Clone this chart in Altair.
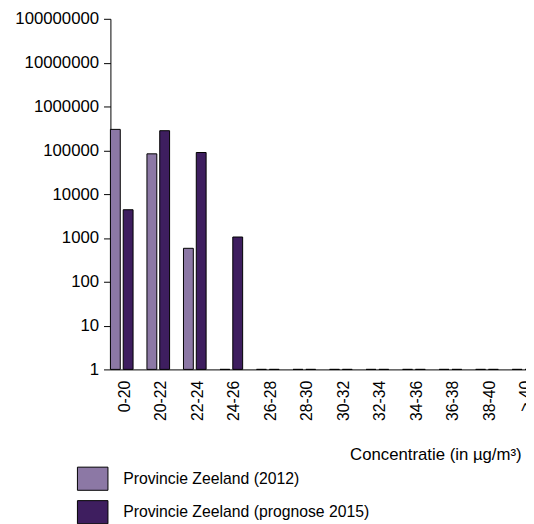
import altair as alt
import pandas as pd

categories = ["0-20", "20-22", "22-24", "24-26", "26-28", "28-30",
              "30-32", "32-34", "34-36", "36-38", "38-40", "> 40"]
series_names = ["Provincie Zeeland (2012)", "Provincie Zeeland (prognose 2015)"]
values_2012 = [300000, 83000, 580, 1, 1, 1, 1, 1, 1, 1, 1, 1]
values_2015 = [4400, 280000, 89000, 1050, 1, 1, 1, 1, 1, 1, 1, 1]
y_ticks = [1, 10, 100, 1000, 10000, 100000, 1000000, 10000000, 100000000]
colors = ["#8C78A5", "#3E1E5F"]

rows = []
for c, v in zip(categories, values_2012):
    rows.append({"cat": c, "series": series_names[0], "value": v})
for c, v in zip(categories, values_2015):
    rows.append({"cat": c, "series": series_names[1], "value": v})
df = pd.DataFrame(rows)

FONT = "Liberation Sans"

chart = alt.Chart(df).mark_bar(stroke="black", strokeWidth=1).encode(
    x=alt.X("cat:N", sort=categories,
            scale=alt.Scale(range=[0, 431], paddingInner=0.38, paddingOuter=0),
            axis=alt.Axis(title="Concentratie (in µg/m³)", labelAngle=-90, ticks=False,
                          domainColor="black", labelColor="black", labelFont=FONT,
                          labelFontSize=16, labelPadding=11, labelOffset=3,
                          titleFont=FONT,
                          titleFontSize=17, titleFontWeight="normal", titleColor="black",
                          titleX=417, titleY=86, titleAlign="right",
                          titleBaseline="middle", titleAnchor="start")),
    xOffset=alt.XOffset("series:N", sort=series_names,
                        scale=alt.Scale(paddingInner=0.23, paddingOuter=0)),
    y=alt.Y("value:Q",
            scale=alt.Scale(type="log", domain=[1, 100000000]),
            axis=alt.Axis(values=y_ticks, format="d", title=None, grid=False,
                          tickColor="black", domainColor="black", tickSize=7,
                          labelColor="black", labelFont=FONT, labelFontSize=17,
                          labelPadding=5)),
    y2=alt.datum(1),
    color=alt.Color("series:N", sort=series_names,
                    scale=alt.Scale(domain=series_names, range=colors),
                    legend=alt.Legend(title=None, orient="none", legendX=-34, legendY=451,
                                      direction="vertical",
                                      symbolType="M-1,-0.758L1,-0.758L1,0.758L-1,0.758Z",
                                      symbolSize=961, symbolStrokeColor="black",
                                      symbolStrokeWidth=1, symbolOpacity=1,
                                      labelFont=FONT, labelFontSize=16, labelColor="black",
                                      labelOffset=15, rowPadding=4, labelLimit=400)),
).properties(
    width=422, height=356,
    autosize=alt.AutoSizeParams(type="none"),
    padding={"left": 104, "top": 7, "right": 0, "bottom": 153},
).configure_view(stroke=None)

chart.save("out.html", embed_options={"renderer": "svg", "actions": False})
